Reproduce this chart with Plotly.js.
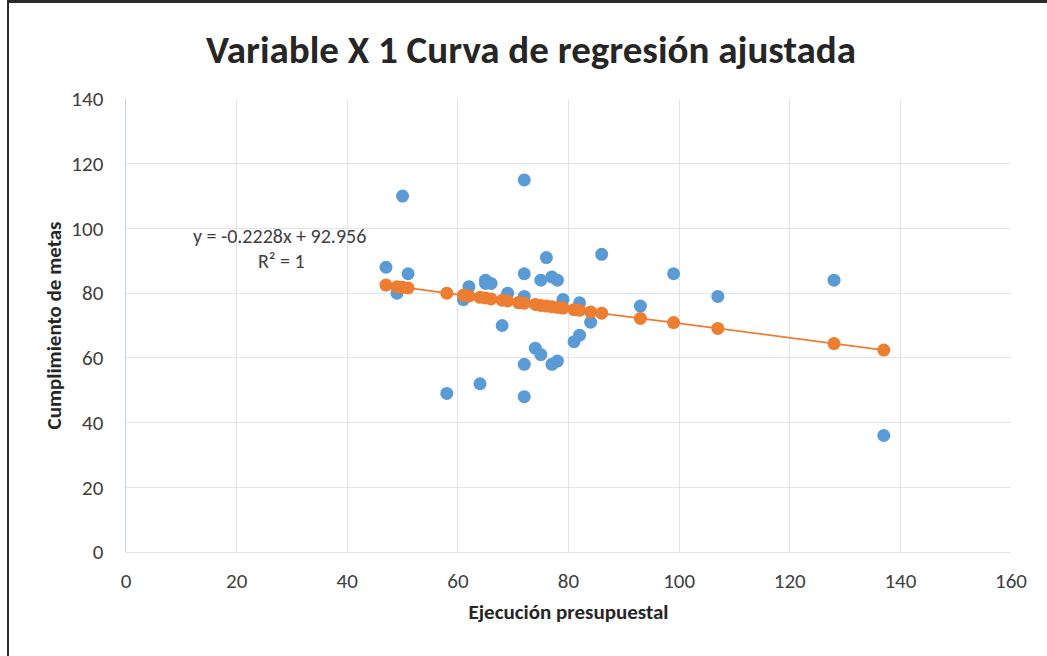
<!DOCTYPE html>
<html>
<head>
<meta charset="utf-8">
<script src="https://cdn.plot.ly/plotly-3.0.1.min.js"></script>
<style>
  html, body { margin: 0; padding: 0; background: #fff; }
  #wrap { position: relative; width: 1047px; height: 656px; overflow: hidden; }
  #chart { position: absolute; left: 0; top: 0; width: 1047px; height: 656px; }
  #btop { position: absolute; left: 7px; top: 0; width: 1040px; height: 3px; background: #2b2b2b; pointer-events: none; }
  #bleft { position: absolute; left: 7px; top: 0; width: 2px; height: 656px; background: #2b2b2b; pointer-events: none; }
</style>
</head>
<body>
<div id="wrap">
  <div id="chart"></div>
  <div id="btop"></div>
  <div id="bleft"></div>
</div>
<script>
// Observed data (blue)
const ejecucion = [47, 49, 50, 51, 58, 61, 62, 64, 65, 65, 66, 68, 69, 71, 72, 72, 72, 72, 72, 74, 75, 75, 76, 77, 77, 78, 78, 79, 81, 82, 82, 84, 86, 93, 99, 107, 128, 137];
const cumplimiento = [88, 80, 110, 86, 49, 78, 82, 52, 84, 83, 83, 70, 80, 77, 115, 86, 79, 58, 48, 63, 84, 61, 91, 85, 58, 84, 59, 78, 65, 77, 67, 71, 92, 76, 86, 79, 84, 36];

// Fitted values (orange)
const ejecucionAjustada = [47, 49, 50, 51, 58, 61, 62, 64, 65, 66, 68, 69, 71, 72, 74, 75, 76, 77, 78, 79, 81, 82, 84, 86, 93, 99, 107, 128, 137];
const cumplimientoAjustado = [82.5, 82.0, 81.8, 81.6, 80.0, 79.4, 79.1, 78.7, 78.5, 78.2, 77.8, 77.6, 77.1, 76.9, 76.5, 76.2, 76.0, 75.8, 75.6, 75.4, 74.9, 74.7, 74.2, 73.8, 72.2, 70.9, 69.1, 64.4, 62.4];

const titulo = 'Variable X 1 Curva de regresión ajustada';
const tituloX = 'Ejecución presupuestal';
const tituloY = 'Cumplimiento de metas';
const ecuacion = 'y = -0.2228x + 92.956';
const r2 = 'R² = 1';

const font = 'Carlito, Calibri, "Open Sans", "Noto Sans", sans-serif';

const traces = [
  {
    x: ejecucion, y: cumplimiento, type: 'scatter', mode: 'markers',
    marker: { color: '#5B9BD5', size: 13, line: { width: 0 } },
    name: 'Cumplimiento de metas', showlegend: false, cliponaxis: false
  },
  {
    x: ejecucionAjustada, y: cumplimientoAjustado, type: 'scatter', mode: 'lines+markers',
    line: { color: '#ED7D31', width: 1.8 },
    marker: { color: '#ED7D31', size: 13, line: { width: 0 } },
    name: 'Pronóstico', showlegend: false, cliponaxis: false
  }
];

const layout = {
  width: 1047, height: 656,
  margin: { l: 126, r: 36, t: 99, b: 104 },
  paper_bgcolor: '#ffffff', plot_bgcolor: '#ffffff',
  font: { family: font, color: '#404040', size: 21 },
  title: {
    text: '<b>' + titulo + '</b>',
    font: { family: font, size: 39, color: '#262626' },
    x: 0.4576, xref: 'paper', xanchor: 'center',
    y: 0.925, yref: 'container', yanchor: 'middle'
  },
  xaxis: {
    range: [0, 160], dtick: 20, tick0: 0,
    showgrid: true, gridcolor: '#E1E5EB', gridwidth: 1.2,
    zeroline: false, showline: true, linecolor: '#E1E5EB', linewidth: 1.2,
    ticks: '', ticklabelstandoff: 10,
    tickfont: { family: font, size: 21, color: '#404040' },
    title: { text: '<b>' + tituloX + '</b>', font: { family: font, size: 21, color: '#262626' }, standoff: 10 }
  },
  yaxis: {
    range: [0, 140], dtick: 20, tick0: 0,
    showgrid: true, gridcolor: '#E1E5EB', gridwidth: 1.2,
    zeroline: false, showline: true, linecolor: '#C5D1E3', linewidth: 1.5,
    ticks: '', ticklabelstandoff: 17,
    tickfont: { family: font, size: 21, color: '#404040' },
    title: { text: '<b>' + tituloY + '</b>', font: { family: font, size: 21, color: '#262626' }, standoff: 4 }
  },
  annotations: [
    { text: ecuacion, xref: 'paper', yref: 'paper', x: 0.174, y: 0.698, xanchor: 'center', yanchor: 'middle', showarrow: false, font: { family: font, size: 20, color: '#404040' } },
    { text: r2, xref: 'paper', yref: 'paper', x: 0.176, y: 0.642, xanchor: 'center', yanchor: 'middle', showarrow: false, font: { family: font, size: 20, color: '#404040' } }
  ]
};

Plotly.newPlot('chart', traces, layout, { displayModeBar: false, staticPlot: true });
</script>
</body>
</html>
